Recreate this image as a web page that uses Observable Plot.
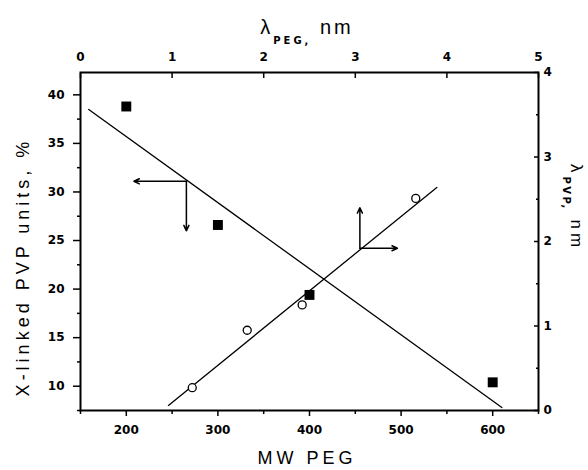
<!DOCTYPE html>
<html>
<head>
<meta charset="utf-8">
<script src="https://cdn.jsdelivr.net/npm/d3@7"></script>
<script src="https://cdn.jsdelivr.net/npm/@observablehq/plot@0.6"></script>
<style>
  html, body { margin: 0; padding: 0; background: #fff; }
  #chart { position: relative; width: 588px; height: 470px; }
  #chart svg { position: absolute; left: 0; top: 0; }
</style>
</head>
<body>
<div id="chart"></div>
<script>
// Cross-linked PVP units (left axis) against PEG molecular weight (bottom axis)
const mwPeg = [200, 300, 400, 600];
const xLinked = [38.8, 26.6, 19.4, 10.4];
// Straight-line fit through the cross-linking data (end points)
const fitMw = [159, 610];
const fitXLinked = [38.5, 7.8];

// λ_PVP (right axis) against λ_PEG (top axis)
const lambdaPeg = [1.22, 1.82, 2.42, 3.66];
const lambdaPvp = [0.27, 0.95, 1.25, 2.51];
const fitLambdaPeg = [0.96, 3.89];
const fitLambdaPvp = [0.06, 2.64];

// Tick values
const mwTicks = [200, 300, 400, 500, 600];
const mwMinor = [150, 250, 350, 450, 550, 650];
const xlTicks = [10, 15, 20, 25, 30, 35, 40];
const xlMinor = [7.5, 12.5, 17.5, 22.5, 27.5, 32.5, 37.5];
const pegTicks = [0, 1, 2, 3, 4, 5];
const pvpTicks = [0, 1, 2, 3, 4];
const pvpMinor = [0.5, 1.5, 2.5, 3.5];

// Arrows showing which axes each data set belongs to
const arrowLeft = {x: 265.6, y: 31.1, toX: 208.3, toY: 26.0};
const arrowRight = {x: 3.05, y: 1.92, toX: 3.46, toY: 2.40};

const W = 588, H = 470;
const M = {marginLeft: 80, marginRight: 50, marginTop: 72, marginBottom: 60};
const tickFont = {fontFamily: "DejaVu Sans", fontSize: 12, fontWeight: "bold"};
const blank = () => "";
const intFmt = d3.format("d");

const squares = mwPeg.map((m, i) => ({mw: m, v: xLinked[i]}));
const fitA = fitMw.map((m, i) => ({mw: m, v: fitXLinked[i]}));
const circles = lambdaPeg.map((p, i) => ({peg: p, pvp: lambdaPvp[i]}));
const fitB = fitLambdaPeg.map((p, i) => ({peg: p, pvp: fitLambdaPvp[i]}));

const bottomLeft = Plot.plot({
  width: W, height: H, ...M,
  style: {background: "white", color: "black"},
  x: {domain: [150, 650]},
  y: {domain: [7.5, 42.3]},
  marks: [
    Plot.axisX(mwMinor, {anchor: "bottom", tickSize: 4, tickFormat: blank, label: null, strokeWidth: 1.5}),
    Plot.axisX(mwTicks, {anchor: "bottom", tickSize: 6, tickPadding: 9, tickFormat: intFmt, label: null, strokeWidth: 1.5, ...tickFont}),
    Plot.axisY(xlMinor, {anchor: "left", tickSize: 3, tickFormat: blank, label: null, strokeWidth: 1.5}),
    Plot.axisY(xlTicks, {anchor: "left", tickSize: 7, tickPadding: 9, tickFormat: intFmt, label: null, strokeWidth: 1.5, ...tickFont}),
    Plot.frame({stroke: "black", strokeWidth: 2}),
    Plot.line(fitA, {x: "mw", y: "v", stroke: "black", strokeWidth: 1.3}),
    Plot.dot(squares, {x: "mw", y: "v", symbol: "square", r: 5.6, fill: "black"}),
    Plot.arrow([arrowLeft], {x1: "x", y1: "y", x2: "toX", y2: "y", stroke: "black", strokeWidth: 1.5, headLength: 6, headAngle: 50}),
    Plot.arrow([arrowLeft], {x1: "x", y1: "y", x2: "x", y2: "toY", stroke: "black", strokeWidth: 1.5, headLength: 6, headAngle: 50})
  ]
});

const topRight = Plot.plot({
  width: W, height: H, ...M,
  style: {background: "transparent", color: "black"},
  x: {domain: [0, 5]},
  y: {domain: [0, 4]},
  marks: [
    Plot.axisX(pegTicks, {anchor: "top", tickSize: -5, tickFormat: blank, label: null, strokeWidth: 1.5}),
    Plot.axisX(pegTicks, {anchor: "top", tickSize: 0, tickPadding: 12, tickFormat: intFmt, label: null, ...tickFont}),
    Plot.axisY(pvpMinor, {anchor: "right", tickSize: -3, tickFormat: blank, label: null, strokeWidth: 1.5}),
    Plot.axisY(pvpTicks, {anchor: "right", tickSize: -5, tickFormat: blank, label: null, strokeWidth: 1.5}),
    Plot.axisY(pvpTicks, {anchor: "right", tickSize: 0, tickPadding: 5, tickFormat: intFmt, label: null, ...tickFont}),
    Plot.line(fitB, {x: "peg", y: "pvp", stroke: "black", strokeWidth: 1.3}),
    Plot.dot(circles, {x: "peg", y: "pvp", r: 4, fill: "white", stroke: "black", strokeWidth: 1.3}),
    Plot.arrow([arrowRight], {x1: "x", y1: "y", x2: "toX", y2: "y", stroke: "black", strokeWidth: 1.5, headLength: 6, headAngle: 50}),
    Plot.arrow([arrowRight], {x1: "x", y1: "y", x2: "x", y2: "toY", stroke: "black", strokeWidth: 1.5, headLength: 6, headAngle: 50})
  ]
});

const chart = document.getElementById("chart");
chart.append(bottomLeft, topRight);

// Axis titles (with subscripts) drawn on the overlay
const svg = d3.select(topRight);
const titleFont = "Liberation Sans, Arial, sans-serif";

// Top: λ_PEG, nm
const tTop = svg.append("text")
  .attr("x", 307).attr("y", 34)
  .attr("text-anchor", "middle")
  .attr("font-family", titleFont).attr("font-size", 20)
  .attr("letter-spacing", 3).attr("fill", "black");
tTop.append("tspan").text("λ");
tTop.append("tspan").attr("dy", 10).attr("font-size", 10).attr("font-weight", "bold")
  .attr("font-family", "DejaVu Sans").text("PEG,");
tTop.append("tspan").attr("dy", -10).text(" nm");

// Right: λ_PVP, nm (reads downward)
const tRight = svg.append("text")
  .attr("transform", "translate(571,164) rotate(90)")
  .attr("text-anchor", "start")
  .attr("font-family", titleFont).attr("font-size", 17)
  .attr("letter-spacing", 4).attr("fill", "black");
tRight.append("tspan").text("λ");
tRight.append("tspan").attr("dy", 8).attr("font-size", 10).attr("font-weight", "bold")
  .attr("font-family", "DejaVu Sans").attr("letter-spacing", 2.5).text("PVP,");
tRight.append("tspan").attr("dy", -8).text(" nm");

// Left: X-linked PVP units, %
svg.append("text")
  .attr("transform", "translate(29,267) rotate(-90)")
  .attr("text-anchor", "middle")
  .attr("font-family", titleFont).attr("font-size", 18)
  .attr("letter-spacing", 4).attr("fill", "black")
  .text("X-linked PVP units, %");

// Bottom: MW PEG
svg.append("text")
  .attr("x", 307).attr("y", 464)
  .attr("text-anchor", "middle")
  .attr("font-family", titleFont).attr("font-size", 18)
  .attr("letter-spacing", 4).attr("fill", "black")
  .text("MW PEG");
</script>
</body>
</html>
